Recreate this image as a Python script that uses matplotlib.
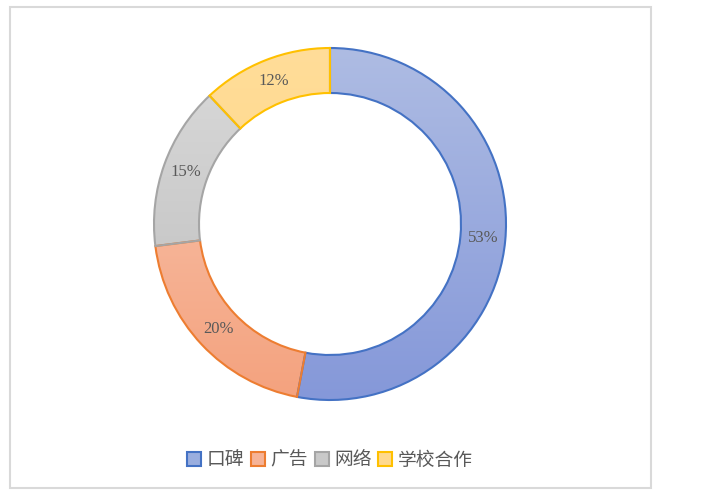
import numpy as np
import matplotlib
matplotlib.use('Agg')
import matplotlib.pyplot as plt
from matplotlib.colors import LinearSegmentedColormap
from matplotlib.patches import Patch, Rectangle

plt.rcParams['font.family'] = ['Noto Sans CJK SC', 'DejaVu Sans']

labels = ['口碑', '广告', '网络', '学校合作']
values = [53, 20, 15, 12]
edge_colors = ['#4472c4', '#ed7d31', '#a5a5a5', '#ffc000']
top_colors = ['#aebce3', '#f9c9b4', '#dadada', '#ffdd99']
bottom_colors = ['#8598d9', '#f4a27e', '#bcbcbc', '#ffd47f']
legend_fill = ['#9aaedf', '#f6b397', '#c9c9c9', '#ffd98e']

W, H = 703, 495
cx, cy = 330, H - 224
R, width = 176, 45


def main():
    fig = plt.figure(figsize=(W / 100, H / 100), dpi=100)
    ax = fig.add_axes([0, 0, 1, 1])

    wedges, texts, autotexts = ax.pie(
        values, center=(cx, cy), radius=R, startangle=90, counterclock=False,
        autopct='%1.0f%%', pctdistance=(R - width / 2) / R,
        wedgeprops=dict(width=width, linewidth=1.5),
        textprops=dict(family=['Liberation Serif'], fontsize=12, color='#595959'),
    )
    grad = np.linspace(0, 1, 256).reshape(-1, 1)
    for w, ec, tc, bc in zip(wedges, edge_colors, top_colors, bottom_colors):
        w.set_facecolor('none')
        w.set_edgecolor(ec)
        w.set_zorder(3)
        cmap = LinearSegmentedColormap.from_list('g', [tc, bc])
        im = ax.imshow(grad, cmap=cmap, aspect='auto', origin='upper',
                       extent=[cx - R, cx + R, cy - R, cy + R], zorder=2)
        im.set_clip_path(w)
    for t in autotexts:
        t.set_zorder(4)

    ax.set_xlim(0, W)
    ax.set_ylim(0, H)
    ax.set_aspect('equal')
    ax.axis('off')

    fig.patches.append(Rectangle((10 / W, 1 - 488 / H), 641 / W, 481 / H,
                                 transform=fig.transFigure, fill=False,
                                 edgecolor='#d9d9d9', linewidth=1.5))

    handles = [Patch(facecolor=f, edgecolor=e, linewidth=1.5)
               for f, e in zip(legend_fill, edge_colors)]
    fig.legend(handles, labels, loc='center', ncol=4,
               bbox_to_anchor=(330 / W, 1 - 460 / H), frameon=False,
               fontsize=13.5, handlelength=0.75, handleheight=0.75,
               handletextpad=0.3, columnspacing=0.35, labelcolor='#595959')

    fig.savefig('out.png', dpi=100)


if __name__ == '__main__':
    main()
